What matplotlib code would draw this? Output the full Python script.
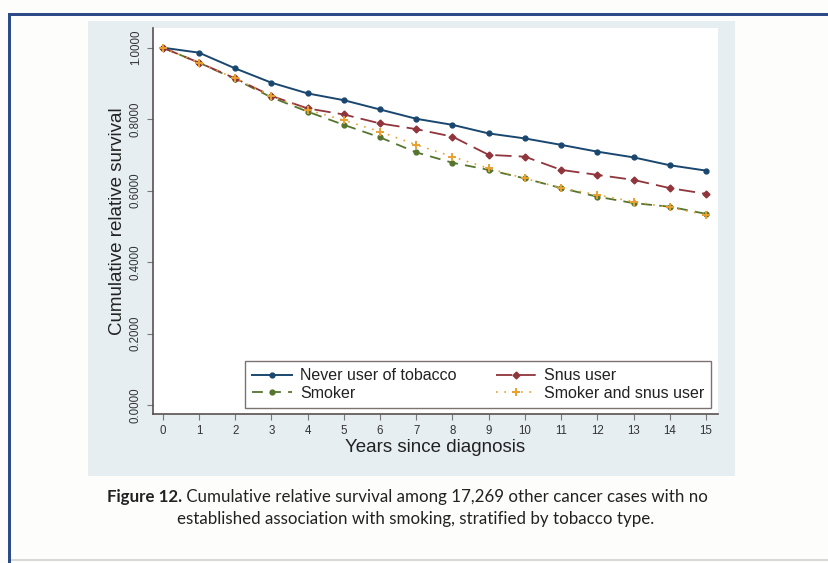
import matplotlib.pyplot as plt
from matplotlib.patches import Rectangle

# values
years = list(range(0, 16))
never_user = [1.0, 0.986, 0.942, 0.902, 0.872, 0.853, 0.827, 0.801, 0.784,
              0.760, 0.746, 0.728, 0.709, 0.693, 0.671, 0.656]
snus_user = [1.0, 0.958, 0.914, 0.865, 0.830, 0.813, 0.788, 0.772, 0.751,
             0.700, 0.695, 0.658, 0.644, 0.630, 0.607, 0.591]
smoker = [1.0, 0.958, 0.912, 0.861, 0.821, 0.784, 0.749, 0.707, 0.678,
          0.658, 0.634, 0.607, 0.583, 0.565, 0.555, 0.535]
smoker_snus = [1.0, 0.958, 0.914, 0.865, 0.826, 0.797, 0.765, 0.728, 0.695,
               0.662, 0.634, 0.608, 0.588, 0.569, 0.553, 0.532]
y_ticks = [0.0, 0.2, 0.4, 0.6, 0.8, 1.0]
caption_bold = 'Figure 12.'
caption_rest = (' Cumulative relative survival among 17,269 other cancer cases with no')
caption_line2 = 'established association with smoking, stratified by tobacco type.'

W, H = 829, 563
fig = plt.figure(figsize=(W / 100, H / 100), dpi=100)
fig.patch.set_facecolor('#fdfdfb')


def px_rect(x0, y0, x1, y1, **kw):
    # rectangle in pixel coords measured from top-left
    r = Rectangle((x0 / W, 1 - y1 / H), (x1 - x0) / W, (y1 - y0) / H,
                  transform=fig.transFigure, zorder=-5, **kw)
    fig.patches.append(r)


# outer frame (top and left dark blue lines, light bottom line)
px_rect(8, 13, W, 16, facecolor='#2d4b88', edgecolor='none')
px_rect(8, 13, 11, H, facecolor='#2d4b88', edgecolor='none')
px_rect(11, 559, W, 561, facecolor='#d8d8d8', edgecolor='none')
# stata graph region
px_rect(88, 21, 735, 476, facecolor='#e6eef2', edgecolor='none')

ax = fig.add_axes([153 / W, 1 - 414 / H, (718 - 153) / W, (414 - 28) / H])
ax.set_facecolor('white')

ax.plot(years, never_user, color='#1a476f', lw=1.4, marker='o', ms=3.5,
        label='Never user of tobacco')
ax.plot(years, smoker, color='#55752f', lw=1.3, ls=(0, (6, 4)), marker='o', ms=3.5,
        label='Smoker')
ax.plot(years, snus_user, color='#90353b', lw=1.3, ls=(0, (9, 4)), marker='D', ms=3.5,
        label='Snus user')
ax.plot(years, smoker_snus, color='#e8a030', lw=1.2, ls=(0, (1, 4)), marker='+', ms=6,
        mew=1.4, label='Smoker and snus user')

ax.set_xlim(-0.268, 15.33)
ax.set_ylim(-0.025, 1.055)
ax.set_xticks(years)
ax.set_yticks(y_ticks)
ax.set_yticklabels(['%.4f' % v for v in y_ticks], rotation=90, va='center')

for s in ['top', 'right']:
    ax.spines[s].set_visible(False)
for s in ['left', 'bottom']:
    ax.spines[s].set_color('#5a4f4f')
    ax.spines[s].set_linewidth(1.2)
ax.tick_params(direction='out', length=4, width=0.8, color='#777777',
               labelsize=8.3, labelcolor='#333333', pad=4)

ax.set_xlabel('Years since diagnosis', fontsize=13.5, family='Liberation Sans',
              color='#222222', labelpad=1)
ax.set_ylabel('Cumulative relative survival', fontsize=13.5, family='Liberation Sans',
              color='#222222', labelpad=3)
for lab in ax.get_xticklabels() + ax.get_yticklabels():
    lab.set_family('Liberation Sans')

leg = ax.legend(ncol=2, loc='lower left',
                bbox_to_anchor=((245 - 153) / 565, (414 - 408) / 386,
                                (711 - 245) / 565, (408 - 358) / 386),
                mode='expand', prop={'family': 'Liberation Sans', 'size': 11.5},
                frameon=True, fancybox=False, borderpad=0.45, labelspacing=0.15,
                handlelength=2.5, handletextpad=0.5, columnspacing=1.0,
                borderaxespad=0)
leg.get_frame().set_edgecolor('#5a4f4f')
leg.get_frame().set_linewidth(1.0)
for t in leg.get_texts():
    t.set_color('#222222')

# caption
cap_font = ['Lato', 'DejaVu Sans']
t1 = fig.text(107 / W, 1 - 497 / H, caption_bold, fontsize=12.2, fontweight='bold',
              family=cap_font, va='center', ha='left', color='#222222')
fig.canvas.draw()
bb = t1.get_window_extent()
fig.text(bb.x1 / W, 1 - 497 / H, caption_rest, fontsize=12.2, family=cap_font,
         va='center', ha='left', color='#222222')
fig.text(416 / W, 1 - 519 / H, caption_line2, fontsize=12.2, family=cap_font,
         va='center', ha='center', color='#222222')

fig.savefig('out.png', dpi=100, facecolor=fig.get_facecolor())
